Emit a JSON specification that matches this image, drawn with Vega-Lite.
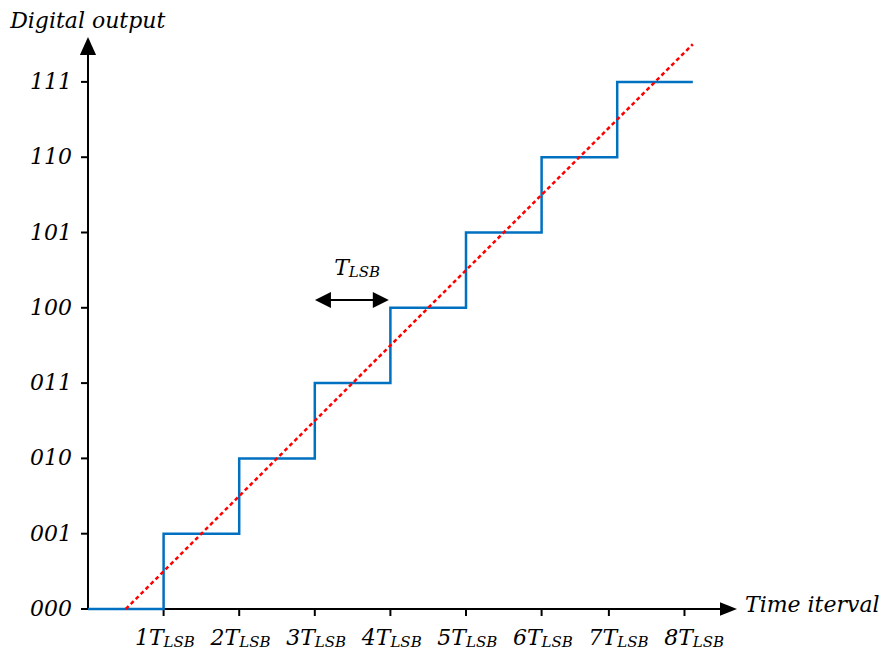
{
  "$schema": "https://vega.github.io/schema/vega-lite/v6.json",
  "width": 880,
  "height": 651,
  "padding": 0,
  "autosize": {"type": "fit", "contains": "padding"},
  "config": {"view": {"stroke": null}},
  "background": "white",
  "datasets": {
    "steps": [
      {"t": 0, "code": 0}, {"t": 1, "code": 1}, {"t": 2, "code": 2}, {"t": 3, "code": 3},
      {"t": 4, "code": 4}, {"t": 5, "code": 5}, {"t": 6, "code": 6}, {"t": 7, "code": 7}, {"t": 8, "code": 7}
    ],
    "ideal": [{"t": 0.5, "code": 0}, {"t": 8, "code": 7.5}],
    "axes": [
      {"name": "y", "x1": 0, "x2": 0, "y1": 0, "y2": 7.42},
      {"name": "x", "x1": 0, "x2": 8.43, "y1": 0, "y2": 0}
    ],
    "yticks": [
      {"v": 0, "lab": "000"}, {"v": 1, "lab": "001"}, {"v": 2, "lab": "010"}, {"v": 3, "lab": "011"},
      {"v": 4, "lab": "100"}, {"v": 5, "lab": "101"}, {"v": 6, "lab": "110"}, {"v": 7, "lab": "111"}
    ],
    "xticks": [{"u": 1}, {"u": 2}, {"u": 3}, {"u": 4}, {"u": 5}, {"u": 6}, {"u": 6.89}, {"u": 7.89}],
    "xlabels": [
      {"u": 1, "main": "1T"}, {"u": 2, "main": "2T"}, {"u": 3, "main": "3T"}, {"u": 4, "main": "4T"},
      {"u": 5, "main": "5T"}, {"u": 6, "main": "6T"}, {"u": 7, "main": "7T"}, {"u": 8, "main": "8T"}
    ],
    "yarrow": [{"x": 0, "y": 7.477}],
    "xarrow": [{"x": 8.472, "y": 0}],
    "span": [{"x1": 3.05, "x2": 3.93, "y": 4.104}],
    "larrow": [{"x": 3.108, "y": 4.104}],
    "rarrow": [{"x": 3.873, "y": 4.104}],
    "titles": [
      {"x": -1.03, "y": 7.716, "txt": "Digital output", "al": "left"},
      {"x": 8.69, "y": -0.04, "txt": "Time iterval", "al": "left"}
    ],
    "ann": [{"x": 3.45, "y": 4.436}]
  },
  "layer": [
    {
      "data": {"name": "axes"},
      "mark": {"type": "rule", "color": "black", "strokeWidth": 2},
      "encoding": {
        "x": {"field": "x1", "type": "quantitative", "scale": {"domain": [-1.16402, 10.47619], "nice": false, "zero": false}, "axis": null},
        "x2": {"field": "x2"},
        "y": {"field": "y1", "type": "quantitative", "scale": {"domain": [-0.55777, 8.08765], "nice": false, "zero": false}, "axis": null},
        "y2": {"field": "y2"}
      }
    },
    {
      "data": {"name": "yticks"},
      "mark": {"type": "rule", "color": "black", "strokeWidth": 2},
      "transform": [{"calculate": "-0.093", "as": "x0"}, {"calculate": "0", "as": "x1"}],
      "encoding": {
        "x": {"field": "x0", "type": "quantitative"},
        "x2": {"field": "x1"},
        "y": {"field": "v", "type": "quantitative"}
      }
    },
    {
      "data": {"name": "xticks"},
      "mark": {"type": "rule", "color": "black", "strokeWidth": 2},
      "transform": [{"calculate": "-0.093", "as": "y0"}, {"calculate": "0", "as": "y1"}],
      "encoding": {
        "x": {"field": "u", "type": "quantitative"},
        "y": {"field": "y0", "type": "quantitative"},
        "y2": {"field": "y1"}
      }
    },
    {
      "data": {"name": "yarrow"},
      "mark": {"type": "point", "shape": "M0,-1L0.9,1L-0.9,1Z", "filled": true, "color": "black", "opacity": 1, "size": 324},
      "encoding": {
        "x": {"field": "x", "type": "quantitative"},
        "y": {"field": "y", "type": "quantitative"}
      }
    },
    {
      "data": {"name": "xarrow"},
      "mark": {"type": "point", "shape": "M1,0L-1,-0.8L-1,0.8Z", "filled": true, "color": "black", "opacity": 1, "size": 289},
      "encoding": {
        "x": {"field": "x", "type": "quantitative"},
        "y": {"field": "y", "type": "quantitative"}
      }
    },
    {
      "data": {"name": "steps"},
      "mark": {"type": "line", "interpolate": "step-after", "color": "#0070C0", "strokeWidth": 2.5},
      "encoding": {
        "x": {"field": "t", "type": "quantitative"},
        "y": {"field": "code", "type": "quantitative"}
      }
    },
    {
      "data": {"name": "ideal"},
      "mark": {"type": "line", "color": "#FF0000", "strokeWidth": 2.5, "strokeDash": [4, 3]},
      "encoding": {
        "x": {"field": "t", "type": "quantitative"},
        "y": {"field": "code", "type": "quantitative"}
      }
    },
    {
      "data": {"name": "span"},
      "mark": {"type": "rule", "color": "black", "strokeWidth": 2},
      "encoding": {
        "x": {"field": "x1", "type": "quantitative"},
        "x2": {"field": "x2"},
        "y": {"field": "y", "type": "quantitative"}
      }
    },
    {
      "data": {"name": "larrow"},
      "mark": {"type": "point", "shape": "M-1,0L1,-1L1,1Z", "filled": true, "color": "black", "opacity": 1, "size": 256},
      "encoding": {
        "x": {"field": "x", "type": "quantitative"},
        "y": {"field": "y", "type": "quantitative"}
      }
    },
    {
      "data": {"name": "rarrow"},
      "mark": {"type": "point", "shape": "M1,0L-1,-1L-1,1Z", "filled": true, "color": "black", "opacity": 1, "size": 256},
      "encoding": {
        "x": {"field": "x", "type": "quantitative"},
        "y": {"field": "y", "type": "quantitative"}
      }
    },
    {
      "data": {"name": "yticks"},
      "mark": {"type": "text", "font": "DejaVu Serif", "fontStyle": "italic", "fontSize": 22, "align": "right", "baseline": "middle", "color": "black"},
      "transform": [{"calculate": "-0.2116", "as": "lx"}],
      "encoding": {
        "x": {"field": "lx", "type": "quantitative"},
        "y": {"field": "v", "type": "quantitative"},
        "text": {"field": "lab"}
      }
    },
    {
      "data": {"name": "xlabels"},
      "mark": {"type": "text", "font": "DejaVu Serif", "fontStyle": "italic", "fontSize": 22, "align": "right", "baseline": "alphabetic", "color": "black", "dx": 0},
      "transform": [{"calculate": "-0.478", "as": "ly"}],
      "encoding": {
        "x": {"field": "u", "type": "quantitative"},
        "y": {"field": "ly", "type": "quantitative"},
        "text": {"field": "main"}
      }
    },
    {
      "data": {"name": "xlabels"},
      "mark": {"type": "text", "font": "DejaVu Serif", "fontStyle": "italic", "fontSize": 15, "align": "left", "baseline": "alphabetic", "color": "black", "dx": 0},
      "transform": [{"calculate": "-0.505", "as": "ly"}, {"calculate": "'LSB'", "as": "sub"}],
      "encoding": {
        "x": {"field": "u", "type": "quantitative"},
        "y": {"field": "ly", "type": "quantitative"},
        "text": {"field": "sub"}
      }
    },
    {
      "data": {"name": "titles"},
      "mark": {"type": "text", "font": "DejaVu Serif", "fontStyle": "italic", "fontSize": 22, "align": "left", "baseline": "alphabetic", "color": "black"},
      "encoding": {
        "x": {"field": "x", "type": "quantitative"},
        "y": {"field": "y", "type": "quantitative"},
        "text": {"field": "txt"}
      }
    },
    {
      "data": {"name": "ann"},
      "mark": {"type": "text", "font": "DejaVu Serif", "fontStyle": "italic", "fontSize": 22, "align": "right", "baseline": "alphabetic", "color": "black"},
      "transform": [{"calculate": "'T'", "as": "m"}],
      "encoding": {
        "x": {"field": "x", "type": "quantitative"},
        "y": {"field": "y", "type": "quantitative"},
        "text": {"field": "m"}
      }
    },
    {
      "data": {"name": "ann"},
      "mark": {"type": "text", "font": "DejaVu Serif", "fontStyle": "italic", "fontSize": 15, "align": "left", "baseline": "alphabetic", "color": "black", "dy": 2},
      "transform": [{"calculate": "'LSB'", "as": "s"}],
      "encoding": {
        "x": {"field": "x", "type": "quantitative"},
        "y": {"field": "y", "type": "quantitative"},
        "text": {"field": "s"}
      }
    }
  ]
}
